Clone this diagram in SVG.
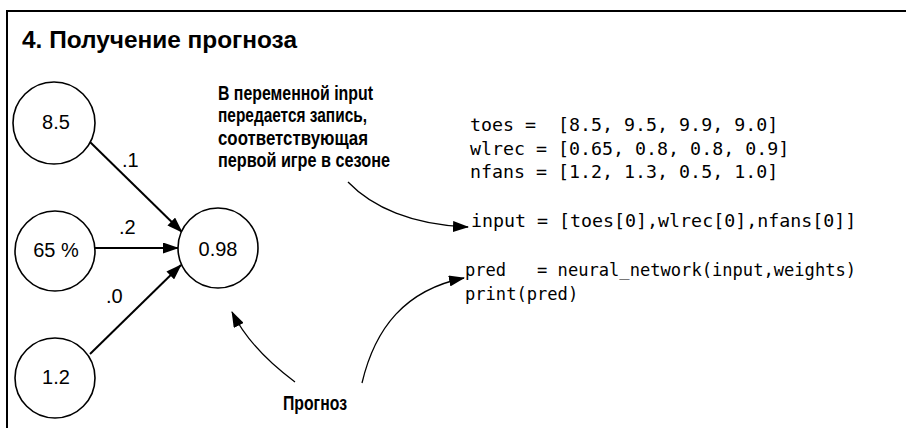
<svg xmlns="http://www.w3.org/2000/svg" width="906" height="428" viewBox="0 0 906 428">
<style>
.frame{fill:none;stroke:#000;stroke-width:2}
.node circle{fill:#fff;stroke:#000;stroke-width:1.6}
.node text{font-family:"Liberation Sans",Arial,sans-serif;font-size:20px;text-anchor:middle;fill:#000}
.edge{stroke:#000;stroke-width:2;fill:none}
.curve{stroke:#000;stroke-width:1.3;fill:none}
.wl{font-family:"Liberation Sans",Arial,sans-serif;font-size:20px;fill:#000}
.title{font-family:"Liberation Sans",Arial,sans-serif;font-size:23px;font-weight:bold;fill:#000}
.note{font-family:"Liberation Sans",Arial,sans-serif;font-size:20px;font-weight:bold;fill:#000}
.code{font-family:"DejaVu Sans Mono","Liberation Mono",monospace;font-size:18.3px;fill:#000;white-space:pre}
.code2{font-family:"DejaVu Sans Mono","Liberation Mono",monospace;font-size:17.1px;fill:#000;white-space:pre}
</style>
<defs>
<marker id="ah" viewBox="0 0 16 11" refX="15" refY="5.5" markerWidth="16" markerHeight="11" markerUnits="userSpaceOnUse" orient="auto">
<path d="M0,0 L16,5.5 L0,11 Z" fill="#000"/>
</marker>
</defs>
<rect width="906" height="428" fill="#fff"/>
<path class="frame" d="M7,428 V11 H906"/>
<text class="title" x="22" y="48" textLength="275" lengthAdjust="spacingAndGlyphs">4. Получение прогноза</text>

<g id="connectors">
<line class="edge" x1="90" y1="142" x2="182" y2="232" marker-end="url(#ah)"/>
<line class="edge" x1="95" y1="248" x2="178" y2="248" marker-end="url(#ah)"/>
<line class="edge" x1="90" y1="354" x2="181" y2="265" marker-end="url(#ah)"/>
<path class="curve" d="M348,182 C372,207 412,225 468,227" marker-end="url(#ah)"/>
<path class="curve" d="M295,382 C268,362 246,340 232,312" marker-end="url(#ah)"/>
<path class="curve" d="M362,383 C375,328 405,290 464,278" marker-end="url(#ah)"/>
<text class="wl" x="122" y="167">.1</text>
<text class="wl" x="119" y="234">.2</text>
<text class="wl" x="106" y="303">.0</text>
</g>

<g id="n-toes" class="node"><circle cx="54" cy="123" r="41"/><text x="56" y="129">8.5</text></g>
<g id="n-wlrec" class="node"><circle cx="55" cy="251" r="40"/><text x="56" y="257">65 %</text></g>
<g id="n-nfans" class="node"><circle cx="55" cy="378" r="40"/><text x="56" y="384">1.2</text></g>
<g id="n-pred" class="node"><circle cx="218" cy="248" r="40"/><text x="218" y="256">0.98</text></g>

<g id="note-input">
<text class="note" x="218" y="100" textLength="155" lengthAdjust="spacingAndGlyphs">В переменной input</text>
<text class="note" x="218" y="122" textLength="149" lengthAdjust="spacingAndGlyphs">передается запись,</text>
<text class="note" x="218" y="145" textLength="150" lengthAdjust="spacingAndGlyphs">соответствующая</text>
<text class="note" x="218" y="167" textLength="172" lengthAdjust="spacingAndGlyphs">первой игре в сезоне</text>
</g>
<g id="note-pred">
<text class="note" x="283" y="410" textLength="64" lengthAdjust="spacingAndGlyphs">Прогноз</text>
</g>

<g id="code">
<text class="code" x="470" y="131">toes =  [8.5, 9.5, 9.9, 9.0]</text>
<text class="code" x="470" y="155">wlrec = [0.65, 0.8, 0.8, 0.9]</text>
<text class="code" x="470" y="178">nfans = [1.2, 1.3, 0.5, 1.0]</text>
<text class="code" x="471" y="227">input = [toes[0],wlrec[0],nfans[0]]</text>
<text class="code2" x="465" y="276">pred   = neural_network(input,weights)</text>
<text class="code2" x="465" y="300">print(pred)</text>
</g>
</svg>
